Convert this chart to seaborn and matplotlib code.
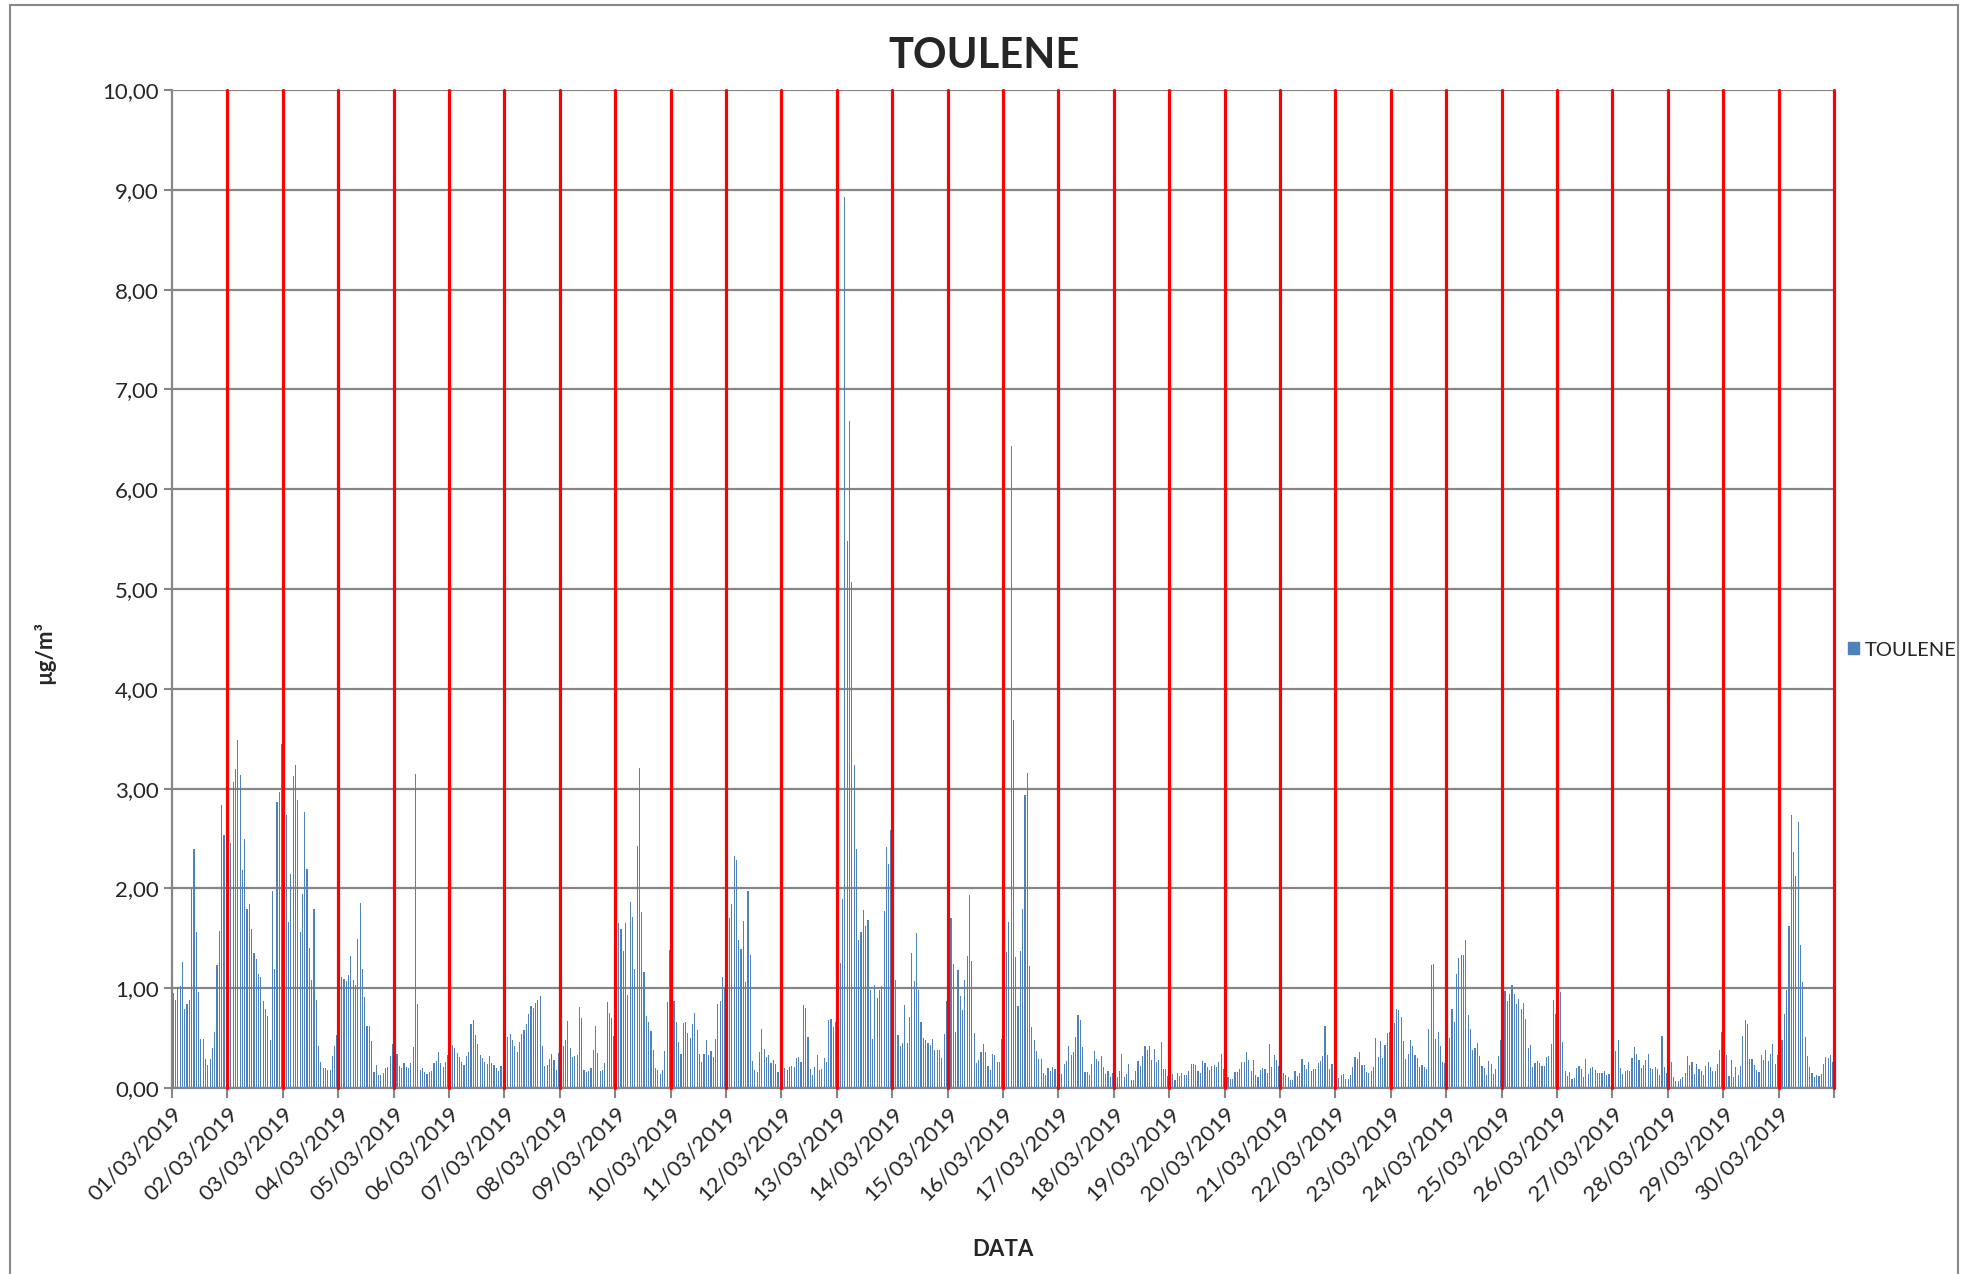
import numpy as np
import pandas as pd
import seaborn as sns
import matplotlib.pyplot as plt
from matplotlib.patches import Rectangle, Patch
from matplotlib.ticker import FuncFormatter

sns.set_theme(style="white")
plt.rcParams['font.family'] = ['Lato', 'DejaVu Sans']

# hourly values, one list per day of March 2019 (µg/m³)
d01 = [0.95, 0.88, 1.01, 1.02, 1.26, 0.79, 0.84, 0.88, 1.99, 2.39, 1.56, 0.96, 0.49, 0.49, 0.29, 0.23, 0.29, 0.40, 0.56, 1.23, 1.57, 2.84, 2.54, 2.33]
d02 = [2.63, 2.45, 3.07, 3.20, 3.49, 3.14, 2.18, 2.49, 1.79, 1.84, 1.59, 1.35, 1.29, 1.14, 1.11, 0.87, 0.79, 0.72, 0.48, 1.97, 1.19, 2.87, 2.97, 3.45]
d03 = [4.37, 2.74, 1.66, 2.14, 3.13, 3.24, 2.89, 1.56, 1.94, 2.77, 2.19, 1.40, 1.08, 1.79, 0.88, 0.42, 0.26, 0.20, 0.20, 0.18, 0.18, 0.32, 0.42, 0.53]
d04 = [0.82, 1.11, 1.09, 1.07, 1.13, 1.32, 1.08, 1.03, 1.49, 1.85, 1.19, 0.91, 0.62, 0.62, 0.47, 0.16, 0.23, 0.13, 0.13, 0.15, 0.20, 0.21, 0.32, 0.44]
d05 = [0.28, 0.34, 0.22, 0.20, 0.25, 0.21, 0.20, 0.25, 0.41, 3.15, 0.84, 0.18, 0.20, 0.16, 0.14, 0.16, 0.17, 0.25, 0.27, 0.36, 0.25, 0.21, 0.26, 0.33]
d06 = [0.38, 0.43, 0.40, 0.35, 0.31, 0.26, 0.23, 0.32, 0.36, 0.64, 0.68, 0.53, 0.44, 0.33, 0.30, 0.26, 0.24, 0.32, 0.25, 0.23, 0.20, 0.17, 0.22, 0.28]
d07 = [0.45, 0.51, 0.54, 0.48, 0.42, 0.36, 0.46, 0.54, 0.58, 0.64, 0.74, 0.82, 0.80, 0.85, 0.88, 0.92, 0.42, 0.22, 0.23, 0.29, 0.34, 0.28, 0.18, 0.35]
d08 = [0.33, 0.42, 0.48, 0.67, 0.40, 0.31, 0.32, 0.33, 0.81, 0.70, 0.18, 0.16, 0.17, 0.20, 0.38, 0.62, 0.35, 0.17, 0.18, 0.25, 0.86, 0.75, 0.70, 0.52]
d09 = [0.40, 1.65, 1.59, 1.37, 1.65, 0.93, 1.86, 1.71, 1.19, 2.42, 3.21, 1.76, 1.16, 0.72, 0.66, 0.57, 0.38, 0.20, 0.18, 0.14, 0.18, 0.37, 0.86, 1.38]
d10 = [0.88, 0.87, 0.66, 0.46, 0.34, 0.65, 0.66, 0.55, 0.50, 0.64, 0.75, 0.58, 0.34, 0.26, 0.34, 0.48, 0.33, 0.37, 0.31, 0.49, 0.84, 0.87, 1.11, 1.01]
d11 = [1.43, 1.70, 1.84, 2.32, 2.28, 1.48, 1.39, 1.67, 1.06, 1.97, 1.33, 0.27, 0.18, 0.16, 0.36, 0.59, 0.39, 0.31, 0.33, 0.25, 0.28, 0.24, 0.16, 0.16]
d12 = [0.14, 0.20, 0.18, 0.21, 0.22, 0.21, 0.30, 0.31, 0.26, 0.83, 0.80, 0.51, 0.19, 0.13, 0.21, 0.33, 0.18, 0.19, 0.30, 0.26, 0.68, 0.69, 0.61, 0.66]
d13 = [1.18, 1.25, 1.89, 8.93, 5.48, 6.68, 5.07, 3.24, 2.39, 1.48, 1.56, 1.78, 1.62, 1.68, 0.98, 0.49, 1.03, 0.90, 0.98, 1.02, 1.77, 2.41, 2.24, 2.59]
d14 = [1.20, 1.08, 0.53, 0.42, 0.45, 0.83, 0.45, 0.71, 1.35, 1.07, 1.55, 0.98, 0.66, 0.50, 0.48, 0.45, 0.43, 0.49, 0.38, 0.38, 0.38, 0.30, 0.54, 0.87]
d15 = [1.05, 1.70, 1.24, 0.56, 1.18, 0.92, 0.78, 1.08, 1.32, 1.93, 1.27, 0.55, 0.25, 0.28, 0.36, 0.44, 0.36, 0.22, 0.18, 0.34, 0.33, 0.26, 0.26, 0.49]
d16 = [0.52, 1.36, 1.66, 6.43, 3.69, 1.31, 0.82, 1.37, 1.79, 2.94, 3.16, 1.22, 0.61, 0.48, 0.37, 0.29, 0.29, 0.15, 0.13, 0.20, 0.17, 0.21, 0.19, 0.31]
d17 = [0.24, 0.14, 0.24, 0.27, 0.42, 0.33, 0.36, 0.51, 0.73, 0.68, 0.41, 0.16, 0.16, 0.13, 0.24, 0.37, 0.29, 0.27, 0.32, 0.21, 0.14, 0.17, 0.11, 0.15]
d18 = [0.13, 0.11, 0.17, 0.34, 0.11, 0.14, 0.24, 0.08, 0.08, 0.17, 0.27, 0.22, 0.32, 0.42, 0.38, 0.42, 0.28, 0.39, 0.26, 0.28, 0.46, 0.19, 0.19, 0.12]
d19 = [0.14, 0.14, 0.08, 0.15, 0.12, 0.15, 0.13, 0.13, 0.17, 0.24, 0.24, 0.23, 0.17, 0.15, 0.27, 0.25, 0.21, 0.18, 0.22, 0.23, 0.21, 0.26, 0.34, 0.19]
d20 = [0.20, 0.11, 0.09, 0.09, 0.16, 0.16, 0.19, 0.26, 0.26, 0.36, 0.28, 0.17, 0.28, 0.13, 0.11, 0.18, 0.20, 0.19, 0.15, 0.44, 0.21, 0.33, 0.28, 0.22]
d21 = [0.25, 0.15, 0.13, 0.11, 0.08, 0.08, 0.17, 0.12, 0.15, 0.29, 0.23, 0.19, 0.26, 0.17, 0.19, 0.19, 0.25, 0.27, 0.32, 0.62, 0.33, 0.19, 0.24, 0.17]
d22 = [0.15, 0.10, 0.13, 0.14, 0.09, 0.09, 0.13, 0.21, 0.31, 0.29, 0.36, 0.23, 0.23, 0.16, 0.15, 0.17, 0.21, 0.50, 0.31, 0.47, 0.30, 0.43, 0.55, 0.56]
d23 = [0.56, 0.65, 0.79, 0.78, 0.71, 0.47, 0.29, 0.34, 0.48, 0.42, 0.33, 0.30, 0.21, 0.23, 0.21, 0.19, 0.59, 1.23, 1.24, 0.49, 0.56, 0.42, 0.26, 0.25]
d24 = [0.31, 0.50, 0.79, 0.66, 1.14, 1.30, 1.33, 1.33, 1.48, 0.73, 0.59, 0.38, 0.40, 0.45, 0.32, 0.22, 0.20, 0.13, 0.27, 0.24, 0.14, 0.19, 0.32, 0.48]
d25 = [0.64, 0.97, 0.87, 0.94, 1.03, 0.94, 0.84, 0.89, 0.79, 0.85, 0.69, 0.40, 0.43, 0.21, 0.25, 0.27, 0.25, 0.22, 0.22, 0.31, 0.32, 0.44, 0.88, 0.74]
d26 = [0.80, 0.96, 0.46, 0.17, 0.12, 0.16, 0.09, 0.10, 0.20, 0.22, 0.19, 0.11, 0.29, 0.14, 0.20, 0.21, 0.18, 0.15, 0.15, 0.15, 0.17, 0.13, 0.14, 0.23]
d27 = [0.18, 0.37, 0.48, 0.20, 0.14, 0.17, 0.18, 0.17, 0.30, 0.41, 0.34, 0.28, 0.20, 0.23, 0.28, 0.34, 0.20, 0.19, 0.21, 0.19, 0.13, 0.52, 0.21, 0.15]
d28 = [0.15, 0.26, 0.11, 0.07, 0.07, 0.09, 0.11, 0.15, 0.32, 0.23, 0.26, 0.14, 0.24, 0.19, 0.17, 0.13, 0.22, 0.26, 0.21, 0.17, 0.17, 0.24, 0.38, 0.56]
d29 = [0.25, 0.33, 0.12, 0.28, 0.11, 0.21, 0.13, 0.22, 0.52, 0.68, 0.64, 0.29, 0.29, 0.23, 0.18, 0.16, 0.33, 0.28, 0.38, 0.27, 0.34, 0.44, 0.24, 0.33]
d30 = [0.40, 0.48, 0.74, 0.98, 1.62, 2.74, 2.36, 2.12, 2.67, 1.43, 1.06, 0.51, 0.32, 0.21, 0.15, 0.11, 0.13, 0.12, 0.14, 0.24, 0.31, 0.30, 0.33, 0.26]

days = [d01, d02, d03, d04, d05, d06, d07, d08, d09, d10,
        d11, d12, d13, d14, d15, d16, d17, d18, d19, d20,
        d21, d22, d23, d24, d25, d26, d27, d28, d29, d30]
day_labels = [f"{d:02d}/03/2019" for d in range(1, 31)]

for d in days:
    assert len(d) == 24

toulene = sum(days, [])
df = pd.DataFrame({'ora': np.arange(len(toulene)), 'TOULENE': toulene})

bar_color = '#4F81BD'
fig = plt.figure(figsize=(19.68, 12.74), dpi=100)
ax = fig.add_axes([172 / 1968, 1 - 1088 / 1274, (1834 - 172) / 1968, (1088 - 90) / 1274])

sns.barplot(data=df, x='ora', y='TOULENE', color=bar_color, saturation=1,
            width=0.5, errorbar=None, native_scale=True, ax=ax, linewidth=0)

gray = '#868686'
n = len(toulene)
ax.set_xlim(-0.5, n - 0.5)
ax.set_ylim(0, 10)

# day boundaries
bounds = [24 * k - 0.5 for k in range(31)]
for b in bounds[1:]:
    ax.axvline(b, color='#FF0000', lw=2.3, zorder=3, clip_on=False)

ax.set_xticks(bounds)
ax.set_xticklabels(day_labels + [''], rotation=45, ha='right', rotation_mode='anchor', fontsize=16)
ax.set_yticks(range(11))
ax.yaxis.set_major_formatter(FuncFormatter(lambda v, p: f"{v:.2f}".replace('.', ',')))
ax.tick_params(axis='y', labelsize=16, length=6, width=1.5, color=gray, left=True)
ax.tick_params(axis='x', length=7, width=1.5, color=gray, bottom=True, pad=4)

ax.yaxis.grid(True, color=gray, lw=1.6)
ax.xaxis.grid(False)
ax.set_axisbelow(True)
for s in ['top', 'right']:
    ax.spines[s].set_visible(False)
for s in ['left', 'bottom']:
    ax.spines[s].set_color(gray)
    ax.spines[s].set_linewidth(1.6)
ax.set_xlabel('')
ax.set_ylabel('')

fig.text(0.5, 1 - 56 / 1274, 'TOULENE', ha='center', va='center', fontsize=30, fontweight='bold')
fig.text(44 / 1968, 1 - 653 / 1274, 'µg/m³', rotation=90, ha='center', va='center', fontsize=16, fontweight='bold')
fig.text(1003 / 1968, 1 - 1250 / 1274, 'DATA', ha='center', va='center', fontsize=16, fontweight='bold')

fig.legend(handles=[Patch(color=bar_color, label='TOULENE')], loc='center left',
           bbox_to_anchor=(1838 / 1968, 1 - 650 / 1274), frameon=False, fontsize=14.5,
           handlelength=0.55, handleheight=0.55, handletextpad=0.3, borderpad=0)

fig.patches.append(Rectangle((10 / 1968, -0.02), 1 - 20 / 1968, 1.02 - 5 / 1274,
                             transform=fig.transFigure, fill=False, edgecolor='#898989', lw=1.5))

fig.savefig('out.png', dpi=100, facecolor='white')
